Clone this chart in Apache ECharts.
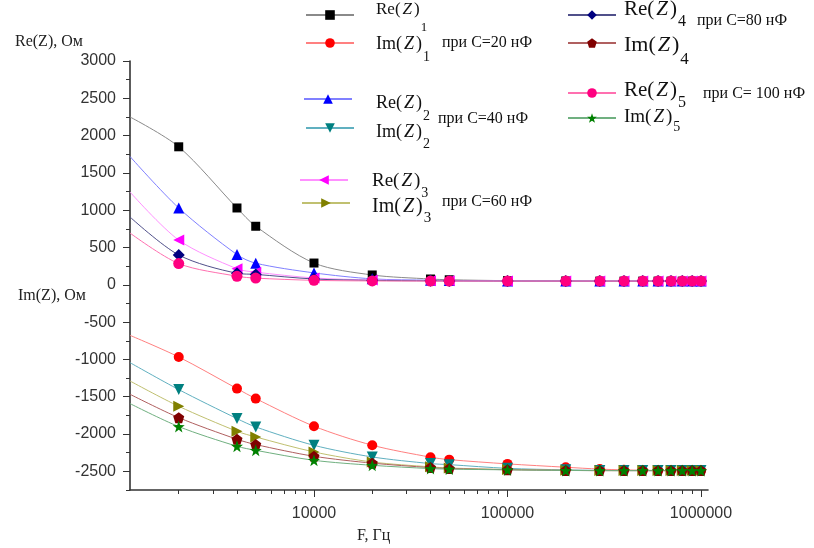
<!DOCTYPE html>
<html><head><meta charset="utf-8">
<script src="https://cdn.jsdelivr.net/npm/echarts@6/dist/echarts.min.js"></script>
<style>html,body{margin:0;padding:0;background:#fff}#c{width:814px;height:548px}</style>
</head><body><div id="c"></div>
<script>
// ---- data ----
const freq = [2000, 4000, 5000, 10000, 20000, 40000, 50000, 100000, 200000, 300000, 400000, 500000, 600000, 700000, 800000, 900000, 1000000];
const fEdge = 1120; // fitted curves start at the left edge of the axis
const re1 = [1850, 1030, 785, 292, 132, 78, 68, 56, 52, 50, 50, 50, 50, 50, 50, 50, 50];
const re2 = [1030, 405, 290, 160, 80, 62, 58, 52, 50, 50, 50, 50, 50, 50, 50, 50, 50];
const re3 = [600, 215, 170, 92, 65, 56, 54, 51, 50, 50, 50, 50, 50, 50, 50, 50, 50];
const re4 = [400, 155, 140, 78, 60, 53, 52, 50, 50, 50, 50, 50, 50, 50, 50, 50, 50];
const re5 = [285, 115, 90, 60, 52, 50, 50, 50, 50, 50, 50, 50, 50, 50, 50, 50, 50];
const im1 = [-967, -1391, -1525, -1895, -2150, -2310, -2343, -2400, -2445, -2470, -2480, -2485, -2488, -2490, -2490, -2490, -2490];
const im2 = [-1404, -1793, -1905, -2151, -2307, -2396, -2410, -2460, -2480, -2487, -2490, -2490, -2490, -2490, -2490, -2490, -2490];
const im3 = [-1628, -1963, -2039, -2240, -2375, -2440, -2455, -2475, -2485, -2490, -2490, -2490, -2490, -2490, -2490, -2490, -2490];
const im4 = [-1780, -2070, -2141, -2298, -2390, -2450, -2462, -2478, -2487, -2490, -2490, -2490, -2490, -2490, -2490, -2490, -2490];
const im5 = [-1900, -2164, -2218, -2352, -2419, -2463, -2470, -2480, -2488, -2490, -2490, -2490, -2490, -2490, -2490, -2490, -2490];
const startRe = [2250, 1720, 1244, 909, 694];
const startIm = [-677, -1043, -1289, -1467, -1592];
const yLabels = [-2500, -2000, -1500, -1000, -500, 0, 500, 1000, 1500, 2000, 2500, 3000];
const yMinor = [-2750, -2250, -1750, -1250, -750, -250, 250, 750, 1250, 1750, 2250, 2750];
const xLabels = [10000, 100000, 1000000];
const xMinor = [2000, 3000, 4000, 5000, 6000, 7000, 8000, 9000, 20000, 30000, 40000, 50000, 60000, 70000, 80000, 90000, 200000, 300000, 400000, 500000, 600000, 700000, 800000, 900000];
const names = ['Re1', 'Im1', 'Re2', 'Im2', 'Re3', 'Im3', 'Re4', 'Im4', 'Re5', 'Im5'];

// ---- styles ----
const PENT = 'path://M0,-10L9.51,-3.09L5.88,8.09L-5.88,8.09L-9.51,-3.09Z';
const STAR = 'path://M0,-10L2.35,-3.24L9.51,-3.09L3.8,1.24L5.88,8.09L0,4L-5.88,8.09L-3.8,1.24L-9.51,-3.09L-2.35,-3.24Z';
const sty = {
  Re1: {data: re1, start: startRe[0], color: '#000000', line: '#8a8a8a', symbol: 'rect', size: 9, rot: 0},
  Im1: {data: im1, start: startIm[0], color: '#ff0000', line: '#ff8080', symbol: 'circle', size: 10, rot: 0},
  Re2: {data: re2, start: startRe[1], color: '#0000ff', line: '#8080ff', symbol: 'triangle', size: 11, rot: 0},
  Im2: {data: im2, start: startIm[1], color: '#008080', line: '#60b0c0', symbol: 'triangle', size: 11, rot: 180},
  Re3: {data: re3, start: startRe[2], color: '#ff00ff', line: '#ff90ff', symbol: 'triangle', size: 11, rot: 90},
  Im3: {data: im3, start: startIm[2], color: '#808000', line: '#c0c070', symbol: 'triangle', size: 11, rot: -90},
  Re4: {data: re4, start: startRe[3], color: '#000080', line: '#50508a', symbol: 'diamond', size: 12, rot: 0},
  Im4: {data: im4, start: startIm[3], color: '#800000', line: '#b06060', symbol: PENT, size: 11, rot: 0},
  Re5: {data: re5, start: startRe[4], color: '#ff0080', line: '#ff70b0', symbol: 'circle', size: 11, rot: 0},
  Im5: {data: im5, start: startIm[4], color: '#008000', line: '#70b080', symbol: STAR, size: 12, rot: 0}
};

const series = names.map(n => {
  const s = sty[n];
  const d = [{value: [fEdge, s.start], symbol: 'none'}].concat(freq.map((f, i) => [f, s.data[i]]));
  return {
    name: n, type: 'line', data: d, smooth: 0.3,
    symbol: s.symbol, symbolSize: s.size, symbolRotate: s.rot,
    itemStyle: {color: s.color},
    lineStyle: {color: s.line, width: 1},
    emphasis: {disabled: true}, z: 3
  };
});

// legend icon positions [lineStartX, centerY]
const legPos = {
  Re1: [305, 15], Im1: [305, 43], Re2: [303, 99], Im2: [305, 128], Re3: [299, 180], Im3: [301, 203],
  Re4: [567, 15], Im4: [567, 43], Re5: [567, 93], Im5: [567, 118]
};
const legends = names.map(n => ({
  data: [n], left: legPos[n][0], top: legPos[n][1] - 6, padding: 0,
  itemWidth: 48, itemHeight: 12, selectedMode: false,
  formatter: () => '', textStyle: {fontSize: 1}
}));

// legend text: [x, centerY, text base, sub, mainSize, drop]
const legText = [
  [376, 10, 'Re', '1', 17, 18],
  [376, 44, 'Im', '1', 18, 13],
  [376, 103, 'Re', '2', 18, 13],
  [376, 132, 'Im', '2', 18, 12],
  [372, 181, 'Re', '3', 19, 12],
  [372, 207, 'Im', '3', 20, 11],
  [624, 9, 'Re', '4', 21, 13],
  [624, 45, 'Im', '4', 22, 15],
  [624, 90, 'Re', '5', 21, 13],
  [624, 117, 'Im', '5', 19, 10]
];
const SERIF = 'Liberation Serif';
const graphics = legText.map(t => ({
  type: 'text', x: t[0], y: t[1], silent: true,
  style: {
    text: '{a|' + t[2] + '(}{z|Z}{a|)}{b|' + t[3] + '}',
    verticalAlign: 'middle', align: 'left',
    rich: {
      a: {fontSize: t[4], fontFamily: SERIF, fill: '#111'},
      z: {fontSize: t[4], fontFamily: SERIF, fontStyle: 'italic', fill: '#111', padding: [0, 2, 0, 2]},
      b: {fontSize: Math.round(t[4] * 0.75), fontFamily: SERIF, fill: '#111', padding: [t[5] * 2, 0, 0, 1]}
    }
  }
}));
const notes = [
  [442, 43, 'при C=20 нФ'], [438, 119, 'при C=40 нФ'], [442, 202, 'при C=60 нФ'],
  [697, 21, 'при C=80 нФ'], [703, 94, 'при C= 100 нФ']
];
notes.forEach(t => graphics.push({type: 'text', x: t[0], y: t[1], silent: true,
  style: {text: t[2], font: '16px "Liberation Serif"', fill: '#111', verticalAlign: 'middle'}}));
[[15, 42, 'Re(Z), Ом'], [18, 296, 'Im(Z), Ом'], [357, 536, 'F, Гц']].forEach(t => graphics.push({
  type: 'text', x: t[0], y: t[1], silent: true,
  style: {text: t[2], font: '16px "Liberation Serif"', fill: '#222', verticalAlign: 'middle'}}));

const axisLine = {show: true, onZero: false, lineStyle: {color: '#333', width: 1.6}};
const labelStyle = {color: '#333', fontSize: 16, fontFamily: 'Liberation Sans'};
const X0 = 1120, X1 = 1087000, Y0 = -2750, Y1 = 3000;

const option = {
  animation: false,
  backgroundColor: '#fff',
  grid: {left: 130, right: 106, top: 61, bottom: 58, containLabel: false},
  xAxis: [
    {type: 'log', logBase: 10, min: X0, max: X1, position: 'bottom', axisLine: axisLine,
     axisTick: {show: true, length: 7, customValues: xLabels, lineStyle: {color: '#333'}},
     axisLabel: Object.assign({customValues: xLabels, margin: 16, formatter: v => String(Math.round(v))}, labelStyle),
     splitLine: {show: false}, minorTick: {show: false}},
    {type: 'log', logBase: 10, min: X0, max: X1, position: 'bottom', axisLine: {show: false, onZero: false},
     axisTick: {show: true, length: 4, customValues: xMinor, lineStyle: {color: '#333'}},
     axisLabel: {show: false}, splitLine: {show: false}}
  ],
  yAxis: [
    {type: 'value', min: Y0, max: Y1, interval: 250, axisLine: axisLine,
     axisTick: {show: true, length: 7, customValues: yLabels, lineStyle: {color: '#333'}},
     axisLabel: Object.assign({customValues: yLabels, margin: 14, formatter: v => String(v)}, labelStyle),
     splitLine: {show: false}},
    {type: 'value', min: Y0, max: Y1, interval: 250, position: 'left', axisLine: {show: false, onZero: false},
     axisTick: {show: true, length: 4, customValues: yMinor, lineStyle: {color: '#333'}},
     axisLabel: {show: false}, splitLine: {show: false}}
  ],
  legend: legends,
  graphic: graphics,
  series: series
};
const chart = echarts.init(document.getElementById('c'), null, {renderer: 'canvas'});
chart.setOption(option);
</script></body></html>
